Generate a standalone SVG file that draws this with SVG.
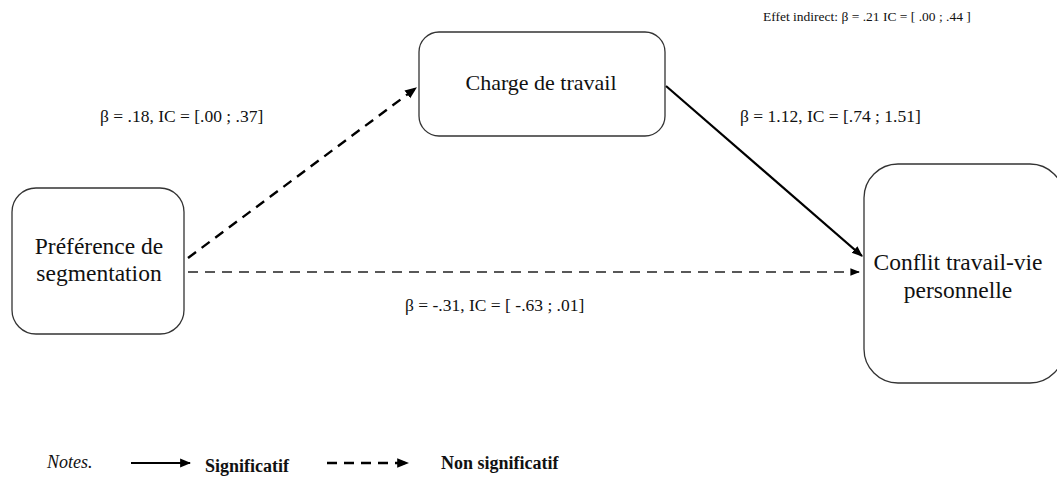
<svg xmlns="http://www.w3.org/2000/svg" width="1057" height="485" viewBox="0 0 1057 485">
<defs>
<style>
text{font-family:'Liberation Serif','Times New Roman','DejaVu Serif',serif;fill:#111}
.box{fill:#fff;stroke:#333;stroke-width:1.3}
.nt{font-size:22px;text-anchor:middle}
.nt2{font-size:23.5px;text-anchor:middle}
.lb{font-size:17.5px}
.sm{font-size:13.5px}
.lg{font-size:18px}
.solid{stroke:#000;stroke-width:2.2;fill:none}
.dash{stroke:#000;stroke-width:2.4;fill:none;stroke-dasharray:10 7}
.dash2{stroke:#222;stroke-width:1.6;fill:none;stroke-dasharray:10 7}
</style>
<marker id="ah" viewBox="0 0 10 10" refX="9" refY="5" markerWidth="5" markerHeight="5" orient="auto" markerUnits="strokeWidth"><path d="M0,1 L10,5 L0,9 z" fill="#000"/></marker>
<marker id="ah2" viewBox="0 0 10 10" refX="9" refY="5" markerWidth="6" markerHeight="6" orient="auto" markerUnits="strokeWidth"><path d="M0,1 L10,5 L0,9 z" fill="#000"/></marker>
</defs>
<text class="sm" x="763" y="21" font-family="Liberation Serif, serif">Effet indirect:  β = .21  IC = [ .00 ; .44 ]</text>
<g id="connectors">
<line class="dash" x1="188" y1="258" x2="416" y2="88" marker-end="url(#ah)"/>
<line class="dash2" x1="188" y1="272" x2="859" y2="272" marker-end="url(#ah2)"/>
<line class="solid" x1="666" y1="86" x2="862" y2="256" marker-end="url(#ah)"/>
</g>
<g id="node-segmentation">
<rect class="box" x="12" y="188" width="172" height="146" rx="24"/>
<text class="nt2" x="99" y="254" font-family="Liberation Serif, serif">Préférence de</text>
<text class="nt2" x="99" y="281" font-family="Liberation Serif, serif">segmentation</text>
</g>
<g id="node-charge">
<rect class="box" x="419" y="32" width="246" height="104" rx="20"/>
<text class="nt" x="541" y="90" font-family="Liberation Serif, serif">Charge de travail</text>
</g>
<g id="node-conflit">
<rect class="box" x="864" y="164" width="200" height="219" rx="34"/>
<text class="nt2" x="958" y="270" font-family="Liberation Serif, serif">Conflit travail-vie</text>
<text class="nt2" x="958" y="298" font-family="Liberation Serif, serif">personnelle</text>
</g>
<g id="labels">
<text class="lb" x="100" y="122" font-family="Liberation Serif, serif">β = .18, IC = [.00 ; .37]</text>
<text class="lb" x="740" y="122" font-family="Liberation Serif, serif">β = 1.12, IC = [.74 ; 1.51]</text>
<text class="lb" x="405" y="311" font-family="Liberation Serif, serif">β = -.31, IC = [ -.63 ; .01]</text>
</g>
<g id="legend">
<text class="lg" x="47" y="468" font-style="italic" font-family="Liberation Serif, serif">Notes.</text>
<line class="solid" x1="131" y1="463" x2="190" y2="463" marker-end="url(#ah)"/>
<text class="lg" x="205" y="472" font-weight="bold" font-family="Liberation Serif, serif">Significatif</text>
<line class="dash" x1="327" y1="463" x2="408" y2="463" marker-end="url(#ah)"/>
<text class="lg" x="441" y="469" font-weight="bold" font-family="Liberation Serif, serif">Non significatif</text>
</g>
</svg>
